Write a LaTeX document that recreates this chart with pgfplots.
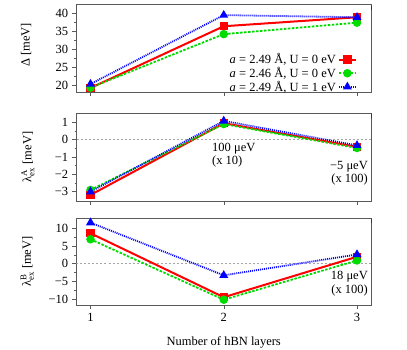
\documentclass[border=0pt]{standalone}
\usepackage{fontspec}
\setmainfont{Liberation Serif}
\usepackage{amsmath}
\usepackage{pgfplots}
\pgfplotsset{compat=1.18}
\definecolor{cgreen}{RGB}{0,220,0}
\definecolor{axgray}{RGB}{90,90,90}
\pgfplotsset{
 panel/.style={
  scale only axis, width=294.5pt,
  xmin=0.895, xmax=3.105, xtick={1,2,3},
  tick align=outside, xtick pos=bottom, ytick pos=left,
  axis line style={axgray},
  every tick/.style={axgray, line width=0.5pt},
  major tick length=4pt, minor tick length=2pt,
  minor y tick num=1,
  ylabel style={at={(axis description cs:-0.168,0.5)}, anchor=center},
 },
 redl/.style={red, line width=2pt, mark=square*, mark size=3.2pt, mark options={solid}},
 greenl/.style={cgreen, line width=1.8pt, dash pattern=on 2.5pt off 1.5pt, mark=*, mark size=3.3pt, mark options={solid}},
 bluel/.style={blue, line width=1.8pt, dash pattern=on 1pt off 1pt, mark=triangle*, mark size=3.4pt, mark options={solid}},
 zeroline/.style={gray!70, line width=0.4pt, dash pattern=on 2pt off 2pt, forget plot},
}
\begin{document}
\fontsize{12.5}{15}\selectfont
\begin{tikzpicture}[x=1pt,y=1pt]
\useasboundingbox (0,0) rectangle (407,349);
% panel (a)
\begin{axis}[panel, height=87.6pt, at={(76.5pt,344.3pt)}, anchor=north west,
  ymin=18, ymax=42.4, ytick={20,25,30,35,40}, yticklabels={20,25,30,35,40},
  xticklabels={},
  ylabel={Δ [meV]},
  ylabel style={at={(axis description cs:-0.171,0.54)}},
  legend plot pos=right, legend cell align=right,
  legend style={draw=none, fill=none, at={(axis description cs:0.963,-0.055)}, anchor=south east, row sep=-2.5pt},
  ]
\addplot[redl] coordinates {(1,19.2) (2,36.4) (3,38.9)};
\addlegendentry{\textit{a} = 2.49 Å, U = 0 eV}
\addplot[greenl] coordinates {(1,19.3) (2,34.2) (3,37.4)};
\addlegendentry{\textit{a} = 2.46 Å, U = 0 eV}
\addplot[bluel] coordinates {(1,20.3) (2,39.5) (3,38.9)};
\addlegendentry{\textit{a} = 2.49 Å, U = 1 eV}
\node[anchor=west, inner sep=0pt] at (rel axis cs:1,1) [yshift=-3.5pt] {(a)};
\end{axis}
% panel (b)
\begin{axis}[panel, height=87.4pt, at={(76.5pt,235.7pt)}, anchor=north west,
  ymin=-3.52, ymax=1.52, ytick={-3,-2,-1,0,1}, yticklabels={−3,−2,−1,0,1},
  xticklabels={},
  ylabel={λ$^{\text{A}}_{\text{ex}}$ [meV]},
  ylabel style={at={(axis description cs:-0.165,0.5)}},
  ]
\addplot[zeroline] coordinates {(0.895,0) (3.105,0)};
\addplot[redl] coordinates {(1,-3.19) (2,0.95) (3,-0.42)};
\addplot[greenl] coordinates {(1,-2.9) (2,0.9) (3,-0.48)};
\addplot[bluel] coordinates {(1,-3.0) (2,1.08) (3,-0.33)};
\node[anchor=west, inner sep=0pt] at (rel axis cs:1,1) [yshift=-3.5pt] {(b)};
\end{axis}
% panel (c)
\begin{axis}[panel, height=86.7pt, at={(76.5pt,130.7pt)}, anchor=north west,
  ymin=-11.7, ymax=12.83, ytick={-10,-5,0,5,10}, yticklabels={−10,−5,0,5,10},
  xticklabels={1,2,3},
  ylabel={λ$^{\text{B}}_{\text{ex}}$ [meV]},
  ylabel style={at={(axis description cs:-0.167,0.5)}},
  xlabel={Number of hBN layers},
  xlabel style={at={(axis description cs:0.5,-0.435)}, anchor=center},
  ]
\addplot[zeroline] coordinates {(0.895,0) (3.105,0)};
\addplot[redl] coordinates {(1,8.6) (2,-9.5) (3,1.95)};
\addplot[greenl] coordinates {(1,6.9) (2,-10.2) (3,0.9)};
\addplot[bluel] coordinates {(1,11.6) (2,-3.3) (3,2.6)};
\node[anchor=west, inner sep=0pt] at (rel axis cs:1,1) [yshift=-3.5pt] {(c)};
\end{axis}
% annotations
\node[anchor=west, inner sep=0pt] at (212,200) {100 μeV};
\node[anchor=west, inner sep=0pt] at (212,187.3) {(x 10)};
\node[anchor=east, inner sep=0pt] at (368,182.3) {−5 μeV};
\node[anchor=east, inner sep=0pt] at (368,170) {(x 100)};
\node[anchor=east, inner sep=0pt] at (368,72) {18 μeV};
\node[anchor=east, inner sep=0pt] at (368,58.3) {(x 100)};
\end{tikzpicture}
\end{document}
